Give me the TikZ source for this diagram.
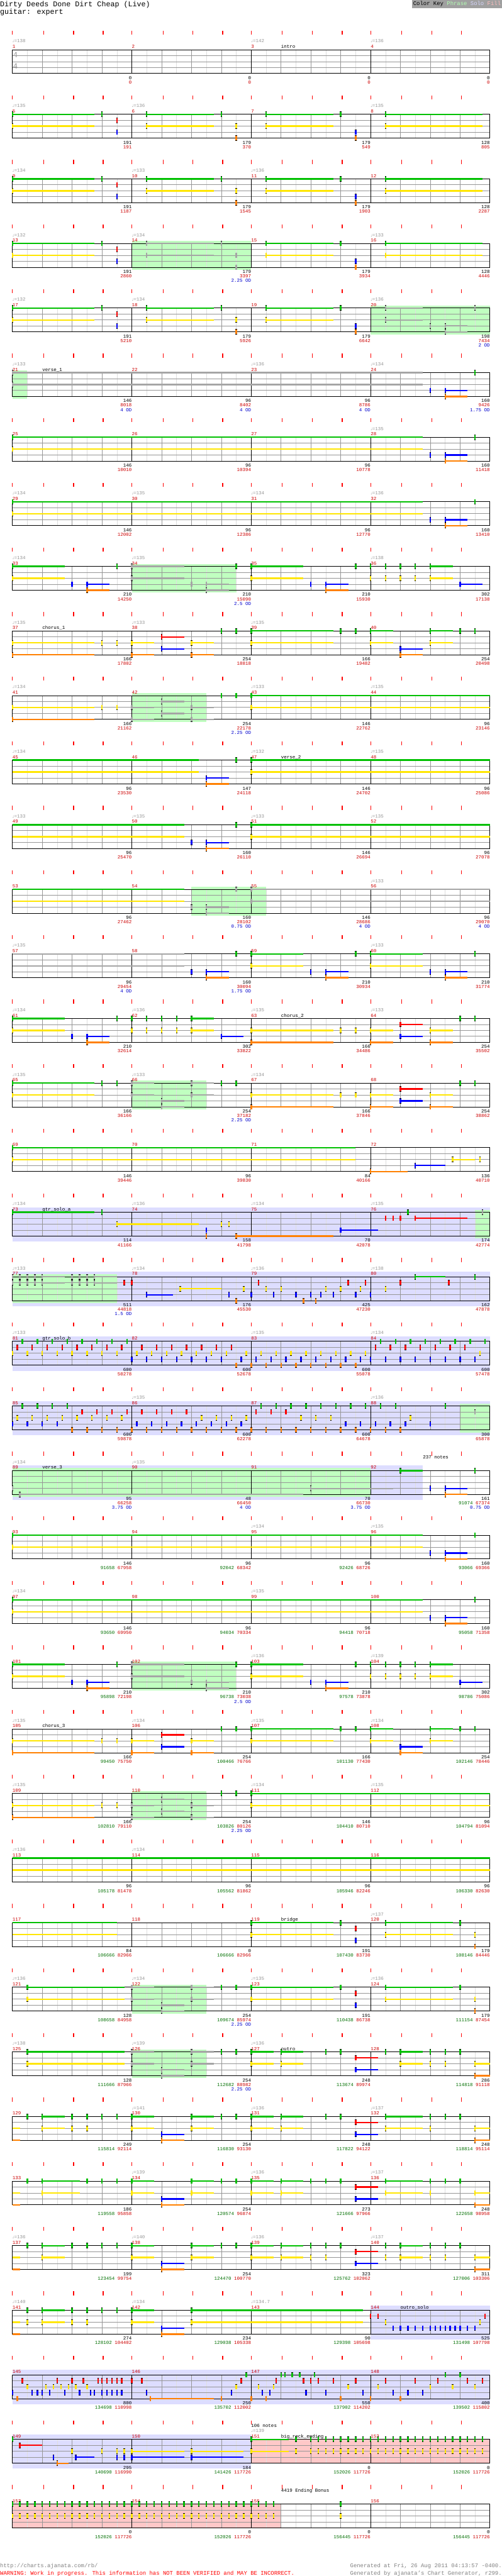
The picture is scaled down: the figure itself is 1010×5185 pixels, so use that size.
\documentclass[tikz,border=0pt]{standalone}
\usepackage{fontspec}
\setmainfont{Liberation Mono}
\newfontfamily\symf{DejaVu Sans}
\usepackage{tikz}

\definecolor{ngreen}{RGB}{0,192,0}
\definecolor{nred}{RGB}{255,0,0}
\definecolor{nyellow}{RGB}{255,230,0}
\definecolor{nblue}{RGB}{0,0,255}
\definecolor{norange}{RGB}{255,128,0}
\definecolor{ngray}{RGB}{165,165,165}
\definecolor{phrasebg}{RGB}{192,255,192}
\definecolor{solobg}{RGB}{221,221,255}
\definecolor{fillbg}{RGB}{255,200,200}
\definecolor{mred}{RGB}{204,0,0}
\definecolor{sgreen}{RGB}{0,110,0}
\definecolor{odblue}{RGB}{0,0,204}
\definecolor{tgray}{RGB}{150,150,150}
\definecolor{linegray}{RGB}{150,150,150}
\definecolor{faintgray}{RGB}{222,222,222}
\definecolor{keygray}{RGB}{160,160,160}
\definecolor{urlgray}{RGB}{128,128,128}
\definecolor{kphrase}{RGB}{180,255,180}
\definecolor{ksolo}{RGB}{215,215,255}
\definecolor{kfill}{RGB}{255,190,190}

% lane number and colour for each fret letter (capitals = overdrive phrase notes)
\newcommand\setlane[3]{\expandafter\def\csname ln#1\endcsname{#2}\expandafter\def\csname cl#1\endcsname{#3}}
\setlane{g}{0}{ngreen}\setlane{r}{1}{nred}\setlane{y}{2}{nyellow}\setlane{b}{3}{nblue}\setlane{o}{4}{norange}
\setlane{G}{0}{ngray}\setlane{R}{1}{ngray}\setlane{Y}{2}{ngray}\setlane{B}{3}{ngray}\setlane{O}{4}{ngray}

% positions are in eighth notes from the row start
\newcommand\hit[2]{\foreach \q in {#2}{\edef\lc{\csname cl\q\endcsname}\edef\ly{\csname ln\q\endcsname}%
  \draw[notecap] (#1,\ly*12-5.5) -- (#1,\ly*12+5.5);
  \draw[notebar,draw=\lc] (#1,\ly*12-4.5) -- (#1,\ly*12+4.5);}}
\newcommand\hits[2]{\foreach \pp in {#2}{\hit{\pp}{#1}}}
\newcommand\cont[3]{\foreach \q in {#3}{\edef\lc{\csname cl\q\endcsname}\edef\ly{\csname ln\q\endcsname}%
  \draw[sustain,draw=\lc] (#1,\ly*12) -- (#2,\ly*12);}}
\newcommand\sus[3]{\cont{#1}{#2}{#3}\hit{#1}{#3}}

\newcommand\phrbox[2]{\fill[phrasebg] (#1,-5) rectangle (#2,53);}
\newcommand\solobox[2]{\fill[solobg] (#1,-10) rectangle (#2,59);}
\newcommand\fillbox[2]{\fill[fillbg] (#1,0) rectangle (#2,48);}

\newcommand\staff[1]{%
  \draw[timetick] \foreach \tk in {0,2.08,4.1,6.08,8,10.1,12.09,14.09,16,18.08,20.08,22.1,24,26.1,28.09,30.07}{(\tk,-38) -- (\tk,-30)};
  \draw[eighthline] \foreach \tk in {1,3,...,31}{(\tk,0) -- (\tk,48)};
  \draw[beatline] \foreach \tk in {2,4,6,10,12,14,18,20,22,26,28,30}{(\tk,0) -- (\tk,48)};
  \draw[laneline] \foreach \tk in {12,24,36}{(0,\tk) -- (32,\tk)};
  \draw[barline] \foreach \tk in {8,16,24}{(\tk,0) -- (\tk,48)};
  \draw[staffframe] (0,0) rectangle (32,48);
  \foreach \tk in {0,...,3}{\pgfmathtruncatemacro\mn{#1+\tk}\node[mnum] (m\mn) at (\tk*8,-3) {\mn};}}

\newcommand\tpo[2]{\node[tempo] (tp#1) at (#1,-14) {{\symf\fontsize{7}{7}\selectfont ♩}=#2};}
\newcommand\sect[2]{\node[seclabel] (lb#1) at (#1,-3) {#2};}
\newcommand\pts[3]{\node[scoreblack] (sb#1) at (#1,60) {#2};\node[scorered] (sr#1) at (#1,69) {#3};}
\newcommand\ptsg[4]{\node[scoreblack] (sb#1) at (#1,60) {#2};\node[scorered] (sr#1) at (#1,69) {\textcolor{sgreen}{#3} #4};}
\newcommand\odx[2]{\node[odtext] (od#1) at (#1,78) {#2 OD};}

% riffs that come back
\newcommand\riffA{\sus{0}{5.5}{g,y}\hit{6}{g}\hit{7}{r,b}\sus{9}{13.5}{g,y}\hit{14}{g}\hit{15}{y,o}\sus{17}{21.5}{g,y}\hit{22}{g}\hit{23}{b,o}\sus{25}{31.5}{g,y}}
\newcommand\tailA{\hit{28}{b}\sus{29}{30.5}{b,o}\hit{31}{g}}
\newcommand\preA{\sus{0}{3.5}{g,y}\hit{4}{b}\sus{5}{6.5}{b,o}\hit{7}{g}\sus{8}{11.5}{G,Y}\hit{12}{B}\sus{13}{14.5}{B,O}\hit{15}{g}%
  \sus{16}{19.5}{g,y}\hit{20}{b}\sus{21}{22.5}{b,o}\hit{23}{g}\foreach \px in {24,...,27}{\hit{\px}{g,y}}\sus{28}{29.5}{g,y}\sus{30}{31.5}{b}}
\newcommand\chorA{\sus{0}{5.5}{y,o}\hit{6}{y}\hit{7}{y}\sus{8}{9.5}{y,o}\sus{10}{11.5}{r,b}\sus{12}{13.5}{y,o}\hit{14}{g}\hit{15}{g}%
  \sus{16}{21.5}{g,y}\hit{22}{g}\hit{23}{g}\sus{24}{25.5}{g,y}\sus{26}{27.5}{b,o}\sus{28}{29.5}{g,y}\hit{30}{g}\hit{31}{g}}
\newcommand\chorB{\sus{0}{5.5}{y,o}\hit{6}{y}\hit{7}{y}\sus{8}{9.5}{Y,O}\sus{10}{11.5}{R,B}\sus{12}{13.5}{Y,O}\hit{14}{g}\hit{15}{g}\sus{16}{32}{g,y}}
\newcommand\chorTail{\sus{16}{21.5}{y,o}\hit{22}{y}\hit{23}{y}\sus{24}{25.5}{y,o}\sus{26}{27.5}{r,b}\sus{28}{29.5}{y,o}\hit{30}{g}\hit{31}{g}}
\newcommand\odA{\sus{8}{9.5}{G,Y}\sus{10}{11.5}{B,O}\sus{12}{13.5}{G,Y}}

\begin{document}
\begin{tikzpicture}[
    x=1pt, y=-1pt,
    font=\fontsize{9.5}{10}\selectfont,
    row/.style={shift={(25,{100+130*(#1-1)})}, xscale=30.03, name prefix=r#1-},
    timetick/.style={draw=nred, line width=1.4pt},
    eighthline/.style={draw=faintgray, line width=0.6pt},
    beatline/.style={draw=linegray, line width=0.9pt},
    laneline/.style={draw=linegray, line width=1.1pt},
    barline/.style={draw=black, line width=0.9pt},
    staffframe/.style={draw=black, line width=1.2pt},
    notecap/.style={draw=black, line width=3pt},
    notebar/.style={line width=3pt},
    sustain/.style={line width=3pt},
    mnum/.style={anchor=base west, inner sep=0pt, text=mred},
    tempo/.style={anchor=base west, inner sep=0pt, text=tgray},
    seclabel/.style={anchor=base west, inner sep=0pt},
    scoreblack/.style={anchor=base east, inner sep=0pt},
    scorered/.style={anchor=base east, inner sep=0pt, text=mred},
    odtext/.style={anchor=base east, inner sep=0pt, text=odblue},
    tsig/.style={anchor=west, inner sep=0pt, text=tgray, font=\fontsize{16}{16}\selectfont},
    bigtext/.style={anchor=base west, inner sep=0pt, font=\fontsize{14.8}{15}\selectfont},
    foot/.style={inner sep=0pt, font=\fontsize{11.3}{12}\selectfont}
]
\useasboundingbox (0,0) rectangle (1010,5185);

% header
\node[bigtext] (title) at (0,13) {Dirty Deeds Done Dirt Cheap (Live)};
\node[bigtext] (part) at (0,28) {guitar: expert};
\node[foot, fill=keygray, anchor=north east, inner xsep=2pt, minimum height=16pt] (key) at (1010,0)
  {Color Key \textcolor{kphrase}{Phrase} \textcolor{ksolo}{Solo} \textcolor{kfill}{Fill}};

% m1-4
\begin{scope}[row=1]
\staff{1}
\node[tsig] (ts1) at (0.03,10) {4};
\node[tsig] (ts2) at (0.03,33) {4};
\tpo{0}{138}\tpo{16}{142}\tpo{24}{136}\sect{18}{intro}
\pts{8}{0}{0}\pts{16}{0}{0}\pts{24}{0}{0}\pts{32}{0}{0}
\end{scope}

% m5-8
\begin{scope}[row=2]
\staff{5}
\tpo{0}{135}\tpo{8}{136}\tpo{24}{135}
\riffA
\pts{8}{191}{191}\pts{16}{179}{370}\pts{24}{179}{549}\pts{32}{128}{805}
\end{scope}

% m9-12
\begin{scope}[row=3]
\staff{9}
\tpo{0}{134}\tpo{8}{133}\tpo{16}{136}
\riffA
\pts{8}{191}{1187}\pts{16}{179}{1545}\pts{24}{179}{1903}\pts{32}{128}{2287}
\end{scope}

% m13-16
\begin{scope}[row=4]
\phrbox{8}{16}
\staff{13}
\tpo{0}{132}\tpo{8}{134}\tpo{24}{133}
\sus{0}{5.5}{g,y}\hit{6}{g}\hit{7}{r,b}\sus{9}{13.5}{G,Y}\hit{14}{G}\hit{15}{Y,O}\sus{17}{21.5}{g,y}\hit{22}{g}\hit{23}{b,o}\sus{25}{31.5}{g,y}
\pts{8}{191}{2860}\pts{16}{179}{3397}\odx{16}{2.25}\pts{24}{179}{3934}\pts{32}{128}{4446}
\end{scope}

% m17-20
\begin{scope}[row=5]
\phrbox{24}{32}
\staff{17}
\tpo{0}{132}\tpo{8}{134}\tpo{24}{136}
\sus{0}{5.5}{g,y}\hit{6}{g}\hit{7}{r,b}\sus{9}{13.5}{g,y}\hit{14}{g}\hit{15}{y,o}\sus{17}{21.5}{g,y}\hit{22}{g}\hit{23}{b,o}
\sus{25}{27.5}{G,Y}\hit{28}{B}\sus{29}{30.5}{B,O}\hit{31}{G}
\pts{8}{191}{5210}\pts{16}{179}{5926}\pts{24}{179}{6642}\pts{32}{198}{7434}\odx{32}{2}
\end{scope}

% m21-24
\begin{scope}[row=6]
\phrbox{0}{1}
\staff{21}
\tpo{0}{133}\tpo{16}{136}\tpo{24}{134}\sect{2}{verse\_1}
\sus{0}{27.5}{G,Y}\tailA
\pts{8}{146}{8018}\odx{8}{4}\pts{16}{96}{8402}\odx{16}{4}\pts{24}{96}{8786}\odx{24}{4}\pts{32}{160}{9426}\odx{32}{1.75}
\end{scope}

% m25-28
\begin{scope}[row=7]
\staff{25}
\tpo{24}{135}
\sus{0}{27.5}{g,y}\tailA
\pts{8}{146}{10010}\pts{16}{96}{10394}\pts{24}{96}{10778}\pts{32}{160}{11418}
\end{scope}

% m29-32
\begin{scope}[row=8]
\staff{29}
\tpo{0}{134}\tpo{8}{135}\tpo{16}{134}\tpo{24}{136}
\sus{0}{27.5}{g,y}\tailA
\pts{8}{146}{12002}\pts{16}{96}{12386}\pts{24}{96}{12770}\pts{32}{160}{13410}
\end{scope}

% m33-36
\begin{scope}[row=9]
\phrbox{8}{15}
\staff{33}
\tpo{0}{134}\tpo{8}{135}\tpo{24}{138}
\preA
\pts{8}{210}{14250}\pts{16}{210}{15090}\odx{16}{2.5}\pts{24}{210}{15930}\pts{32}{302}{17138}
\end{scope}

% m37-40
\begin{scope}[row=10]
\staff{37}
\tpo{0}{135}\tpo{8}{133}\tpo{16}{135}\sect{2}{chorus\_1}
\chorA
\pts{8}{166}{17802}\pts{16}{254}{18818}\pts{24}{166}{19482}\pts{32}{254}{20498}
\end{scope}

% m41-44
\begin{scope}[row=11]
\phrbox{8}{13}
\staff{41}
\tpo{0}{134}\tpo{16}{133}\tpo{24}{135}
\chorB
\pts{8}{166}{21162}\pts{16}{254}{22178}\odx{16}{2.25}\pts{24}{146}{22762}\pts{32}{96}{23146}
\end{scope}

% m45-48
\begin{scope}[row=12]
\staff{45}
\tpo{0}{134}\tpo{16}{132}\tpo{24}{135}\sect{18}{verse\_2}
\cont{0}{12.5}{g,y}\sus{13}{14.5}{b,o}\hit{15}{g}\sus{16}{32}{g,y}
\pts{8}{96}{23530}\pts{16}{147}{24118}\pts{24}{146}{24702}\pts{32}{96}{25086}
\end{scope}

% m49-52
\begin{scope}[row=13]
\staff{49}
\tpo{0}{133}\tpo{8}{135}\tpo{16}{133}\tpo{24}{135}
\cont{0}{11.5}{g,y}\hit{12}{b}\sus{13}{14.5}{b,o}\hit{15}{g}\sus{16}{32}{g,y}
\pts{8}{96}{25470}\pts{16}{160}{26110}\pts{24}{146}{26694}\pts{32}{96}{27078}
\end{scope}

% m53-56
\begin{scope}[row=14]
\phrbox{12}{17}
\staff{53}
\tpo{24}{133}
\cont{0}{11.5}{g,y}\hit{12}{B}\sus{13}{14.5}{B,O}\hit{15}{G}\sus{16}{32}{G,Y}
\pts{8}{96}{27462}\pts{16}{160}{28102}\odx{16}{0.75}\pts{24}{146}{28686}\odx{24}{4}\pts{32}{96}{29070}\odx{32}{4}
\end{scope}

% m57-60
\begin{scope}[row=15]
\staff{57}
\tpo{0}{135}\tpo{24}{133}
\cont{0}{11.5}{G,Y}\hit{12}{b}\sus{13}{14.5}{b,o}\hit{15}{g}\sus{16}{19.5}{g,y}\hit{20}{b}\sus{21}{22.5}{b,o}\hit{23}{g}\sus{24}{27.5}{g,y}\tailA
\pts{8}{96}{29454}\odx{8}{4}\pts{16}{160}{30094}\odx{16}{1.75}\pts{24}{210}{30934}\pts{32}{210}{31774}
\end{scope}

% m61-64
\begin{scope}[row=16]
\staff{61}
\tpo{0}{134}\tpo{8}{136}\tpo{16}{135}\tpo{24}{133}\sect{18}{chorus\_2}
\sus{0}{3.5}{g,y}\hit{4}{b}\sus{5}{6.5}{b,o}\hit{7}{g}\foreach \px in {8,...,11}{\hit{\px}{g,y}}\sus{12}{13.5}{g,y}\sus{14}{15.5}{b}\chorTail
\pts{8}{210}{32614}\pts{16}{302}{33822}\pts{24}{166}{34486}\pts{32}{254}{35502}
\end{scope}

% m65-68
\begin{scope}[row=17]
\phrbox{8}{13}
\staff{65}
\tpo{0}{135}\tpo{8}{133}\tpo{16}{134}
\sus{0}{5.5}{g,y}\hit{6}{g}\hit{7}{g}\odA\hit{14}{g}\hit{15}{g}\chorTail
\pts{8}{166}{36166}\pts{16}{254}{37182}\odx{16}{2.25}\pts{24}{166}{37846}\pts{32}{254}{38862}
\end{scope}

% m69-72
\begin{scope}[row=18]
\staff{69}
\sus{0}{23}{g,y}\sus{24}{26.5}{o}\sus{27}{29}{b}\sus{29.5}{31}{y}\hit{31.33}{y}
\pts{8}{146}{39446}\pts{16}{96}{39830}\pts{24}{84}{40166}\pts{32}{136}{40710}
\end{scope}

% m73-76
\begin{scope}[row=19]
\solobox{0}{32}\phrbox{31}{32}
\staff{73}
\tpo{0}{134}\tpo{8}{136}\tpo{16}{134}\tpo{24}{135}\sect{2}{gtr\_solo\_a}
\sus{0}{5.5}{g}\hit{6}{g}\sus{7}{12.5}{y}\hit{13}{b,o}\hit{14}{y}\hit{14.5}{y}\sus{15}{21.5}{o}\sus{22}{24.5}{b}
\hit{25}{r}\hit{25.5}{r}\hit{26}{r}\hit{26.5}{g}\sus{27}{30.5}{r}\hit{31.5}{G}
\pts{8}{114}{41166}\pts{16}{158}{41798}\pts{24}{70}{42078}\pts{32}{174}{42774}
\end{scope}

% m77-80
\begin{scope}[row=20]
\solobox{0}{32}\phrbox{0}{7}
\staff{77}
\tpo{0}{133}\tpo{8}{134}\tpo{16}{136}\tpo{24}{138}
\hits{G,R}{0,0.5,1,1.5}\sus{2}{3.5}{G,R}\hits{G,R}{4,4.5,5}\sus{5.5}{7}{G,R}
\hits{r}{7.5,8,16.5,22.5,23.67,26,29.25}
\sus{9}{10.75}{b}\sus{11.25}{14}{y}
\hits{y}{15.5,17,18,21,22,23.33,25}
\hits{b}{14.5,16,17.5,19,20,20.67,21.5,23,24}
\hits{o}{15,19.5,20.33}
\sus{27}{29}{g}\hit{31}{g}
\pts{8}{511}{44818}\odx{8}{1.5}\pts{16}{176}{45530}\pts{24}{425}{47230}\pts{32}{162}{47878}
\end{scope}

% m81-84
\begin{scope}[row=21]
\solobox{0}{32}
\staff{81}
\tpo{0}{133}\tpo{16}{135}\tpo{24}{134}\sect{2}{gtr\_solo\_b}
\foreach \px in {0,...,7}{\hit{\px}{y}\hit{\px+0.33}{r}\hit{\px+0.67}{g}}
\foreach \px in {8,...,14}{\hit{\px}{b}\hit{\px+0.33}{y}\hit{\px+0.67}{r}}
\hit{15}{o}\hit{15.33}{b}\hit{15.67}{y}
\foreach \px in {16,...,23}{\hit{\px}{o}\hit{\px+0.33}{b}\hit{\px+0.67}{y}}
\foreach \px in {24,...,31}{\hit{\px}{b}\hit{\px+0.67}{g}}
\foreach \px in {24,...,30}{\hit{\px+0.33}{r}}
\hit{31.33}{y}
\pts{8}{600}{50278}\pts{16}{600}{52678}\pts{24}{600}{55078}\pts{32}{600}{57478}
\end{scope}

% m85-88
\begin{scope}[row=22]
\solobox{0}{32}\phrbox{30}{32}
\staff{85}
\tpo{8}{135}\tpo{24}{136}
\foreach \px in {0,...,3}{\hit{\px}{b}\hit{\px+0.33}{y}\hit{\px+0.67}{g}}
\foreach \px in {4,...,7}{\hit{\px}{o}\hit{\px+0.33}{y}\hit{\px+0.67}{r}}
\foreach \px in {8,...,11}{\hit{\px}{o}\hit{\px+0.33}{b}\hit{\px+0.67}{r}}
\foreach \px in {12,...,15}{\hit{\px}{o}\hit{\px+0.33}{b}\hit{\px+0.67}{y}}
\foreach \px in {16,...,18}{\hit{\px}{o}\hit{\px+0.33}{r}\hit{\px+0.67}{g}}
\foreach \px in {19,...,21}{\hit{\px}{o}\hit{\px+0.33}{y}\hit{\px+0.67}{g}}
\foreach \px in {22,...,25}{\hit{\px}{o}\hit{\px+0.33}{b}\hit{\px+0.67}{g}}
\hit{26}{o}\hit{26.33}{b}\hit{26.67}{y}\hit{28}{b}\hit{29}{g}\hit{31}{R}
\pts{8}{600}{59878}\pts{16}{600}{62278}\pts{24}{600}{64678}\pts{32}{300}{65878}
\end{scope}

% m89-92
\begin{scope}[row=23]
\solobox{0}{27.5}\phrbox{0}{24}
\staff{89}
\tpo{0}{134}\tpo{8}{135}\sect{2}{verse\_3}
\node[seclabel] (count) at (27.5,-24) {237 notes};
\hit{0}{B}\sus{0.5}{19.5}{O}\sus{20}{25.5}{B}\sus{26}{27.5}{g}\tailA
\pts{8}{95}{66258}\odx{8}{3.75}\pts{16}{48}{66450}\odx{16}{4}\pts{24}{70}{66730}\odx{24}{3.75}\ptsg{32}{161}{91074}{67374}\odx{32}{0.75}
\end{scope}

% m93-96
\begin{scope}[row=24]
\staff{93}
\tpo{16}{134}\tpo{24}{135}
\sus{0}{27.5}{g,y}\tailA
\ptsg{8}{146}{91658}{67958}\ptsg{16}{96}{92042}{68342}\ptsg{24}{96}{92426}{68726}\ptsg{32}{160}{93066}{69366}
\end{scope}

% m97-100
\begin{scope}[row=25]
\staff{97}
\tpo{0}{134}\tpo{16}{135}
\sus{0}{27.5}{g,y}\tailA
\ptsg{8}{146}{93650}{69950}\ptsg{16}{96}{94034}{70334}\ptsg{24}{96}{94418}{70718}\ptsg{32}{160}{95058}{71358}
\end{scope}

% m101-104
\begin{scope}[row=26]
\phrbox{8}{15}
\staff{101}
\tpo{16}{136}\tpo{24}{139}
\preA
\ptsg{8}{210}{95898}{72198}\ptsg{16}{210}{96738}{73038}\odx{16}{2.5}\ptsg{24}{210}{97578}{73878}\ptsg{32}{302}{98786}{75086}
\end{scope}

% m105-108
\begin{scope}[row=27]
\staff{105}
\tpo{0}{135}\tpo{8}{134}\tpo{16}{135}\tpo{24}{134}\sect{2}{chorus\_3}
\chorA
\ptsg{8}{166}{99450}{75750}\ptsg{16}{254}{100466}{76766}\ptsg{24}{166}{101130}{77430}\ptsg{32}{254}{102146}{78446}
\end{scope}

% m109-112
\begin{scope}[row=28]
\phrbox{8}{13}
\staff{109}
\tpo{0}{135}\tpo{16}{134}\tpo{24}{135}
\chorB
\ptsg{8}{166}{102810}{79110}\ptsg{16}{254}{103826}{80126}\odx{16}{2.25}\ptsg{24}{146}{104410}{80710}\ptsg{32}{96}{104794}{81094}
\end{scope}

% m113-116
\begin{scope}[row=29]
\staff{113}
\tpo{0}{136}\tpo{8}{134}
\cont{0}{32}{g,y}
\ptsg{8}{96}{105178}{81478}\ptsg{16}{96}{105562}{81862}\ptsg{24}{96}{105946}{82246}\ptsg{32}{96}{106330}{82630}
\end{scope}

% m117-120
\begin{scope}[row=30]
\staff{117}
\tpo{24}{137}\sect{18}{bridge}
\cont{0}{7}{g,y}\sus{16}{21.5}{g,y}\hit{22}{g}\hit{23}{r,b}\sus{25}{29.5}{g,y}\hit{30}{g}\hit{31}{y,o}
\ptsg{8}{84}{106666}{82966}\ptsg{16}{0}{106666}{82966}\ptsg{24}{191}{107430}{83730}\ptsg{32}{179}{108146}{84446}
\end{scope}

% m121-124
\begin{scope}[row=31]
\phrbox{8}{13}
\staff{121}
\tpo{0}{136}\tpo{8}{134}\tpo{16}{135}\tpo{24}{136}
\sus{1}{7.5}{g,y}\odA\hit{14}{g}\hit{15}{g}\sus{16}{21.5}{g,y}\hit{22}{g}\hit{23}{r,b}\sus{25}{29.5}{g,y}\hit{30}{g}\hit{31}{y,o}
\ptsg{8}{128}{108658}{84958}\ptsg{16}{254}{109674}{85974}\odx{16}{2.25}\ptsg{24}{191}{110438}{86738}\ptsg{32}{179}{111154}{87454}
\end{scope}

% m125-128
\begin{scope}[row=32]
\phrbox{8}{13}
\staff{125}
\tpo{0}{138}\tpo{8}{139}\tpo{16}{136}\sect{18}{outro}
\sus{1}{7.5}{g,y}\odA\hit{14}{g}\hit{15}{g}\sus{16}{17.5}{g,y}\sus{18}{19.5}{g,y}\hit{21}{g}\hit{22}{g}\sus{23}{24.5}{r,b}
\hit{25}{g}\sus{26}{27.5}{g,y}\hit{28}{g,y}\hit{29}{g,y}\hit{30}{g}\sus{31}{32}{y,o}
\ptsg{8}{128}{111666}{87966}\ptsg{16}{254}{112682}{88982}\odx{16}{2.25}\ptsg{24}{248}{113674}{89974}\ptsg{32}{286}{114818}{91118}
\end{scope}

% m129-132
\begin{scope}[row=33]
\staff{129}
\tpo{8}{141}\tpo{16}{136}\tpo{24}{137}
\cont{0}{0.5}{y,o}\hit{1}{g}\sus{2}{3.5}{g,y}\hit{4}{g,y}\hit{5}{g,y}\hit{6}{g}\hit{7}{g}
\sus{8}{9.5}{g,y}\sus{10}{11.5}{b,o}\sus{12}{13.5}{g,y}\hit{14}{g}\hit{15}{g}\sus{16}{17.5}{g,y}\sus{18}{19.5}{g,y}\hit{21}{g}\hit{22}{g}
\sus{23}{24.5}{r,b}\sus{25}{27.5}{g,y}\hit{28}{g,y}\hit{29}{g}\hit{30}{g}\sus{31}{32}{y,o}
\ptsg{8}{249}{115814}{92114}\ptsg{16}{254}{116830}{93130}\ptsg{24}{248}{117822}{94122}\ptsg{32}{248}{118814}{95114}
\end{scope}

% m133-136
\begin{scope}[row=34]
\staff{133}
\tpo{8}{139}\tpo{16}{136}\tpo{24}{137}
\cont{0}{0.5}{y,o}\hit{1}{g}\sus{2}{4.5}{g,y}\hit{5}{g}\hit{6}{g}\hit{7}{g}
\sus{8}{9.5}{g,y}\sus{10}{11.5}{b,o}\sus{12}{13.5}{g,y}\hit{14}{g}\hit{15}{g}\sus{16}{17.5}{g,y}\sus{18}{19.5}{g,y}\hit{20}{g}\hit{21}{g}\hit{22}{g}
\sus{23}{24.5}{r,b}\sus{25}{27.5}{g,y}\hit{28}{g,y}\hit{29}{g}\hit{30}{g}\sus{31}{32}{y,o}
\ptsg{8}{186}{119558}{95858}\ptsg{16}{254}{120574}{96874}\ptsg{24}{273}{121666}{97966}\ptsg{32}{248}{122658}{98958}
\end{scope}

% m137-140
\begin{scope}[row=35]
\staff{137}
\tpo{0}{136}\tpo{8}{140}\tpo{16}{136}\tpo{24}{137}
\cont{0}{0.5}{y,o}\hit{1}{g}\sus{2}{3.5}{g,y}\hit{4}{g}\hit{5}{g}\hit{6}{g}\hit{7}{g}
\sus{8}{9.5}{g,y}\sus{10}{11.5}{b,o}\sus{12}{13.5}{g,y}\hit{14}{g}\hit{15}{g}\sus{16}{17.5}{g,y}\sus{18}{19.5}{g,y}\hit{20}{g,y}\hit{21}{g,y}\hit{22}{g}
\sus{23}{24.5}{r,b}\hit{25}{g,y}\sus{26}{27.5}{g,y}\hit{28}{g,y}\hit{29}{g,y}\hit{30}{g}\sus{31}{32}{y,o}
\ptsg{8}{199}{123454}{99754}\ptsg{16}{254}{124470}{100770}\ptsg{24}{323}{125762}{102062}\ptsg{32}{311}{127006}{103306}
\end{scope}

% m141-144
\begin{scope}[row=36]
\solobox{24}{32}
\staff{141}
\tpo{0}{140}\tpo{8}{134}\tpo{16}{134.7}\sect{26}{outro\_solo}
\cont{0}{0.5}{y,o}\hit{1}{g,y}\sus{2}{3.5}{g,y}\hit{4}{g,y}\hit{5}{g,y}\hit{6}{g}\hit{7}{g}
\sus{8}{9.5}{g,y}\sus{10}{11.5}{b,o}\sus{12}{23.5}{g,y}
\hits{r}{24,24.5,31.67}\hits{y}{25,31.33}
\hits{b}{25.5,26,26.5,27,27.5,28,28.33,28.67,29,29.33,29.67,30,30.5,31}
\ptsg{8}{274}{128102}{104402}\ptsg{16}{234}{129038}{105338}\ptsg{24}{90}{129398}{105698}\ptsg{32}{525}{131498}{107798}
\end{scope}

% m145-148
\begin{scope}[row=37]
\solobox{0}{32}
\staff{145}
\sus{9.25}{13.5}{o}
\hits{r}{0.67,3,4,4.75,5.75,6,6.33,6.67,7,7.33,8,8.67,15.33,17.67,19.5,20,20.5,21.5,23,25,27,28.5,30.5,31.5}
\hits{y}{1,2.25,2.75,3.25,3.75,4.25,5,15,16.5,17.5,22.5,24.5,28,29.5,31}
\hits{b}{0,1.33,1.67,2,2.5,3.5,4.5,5.25,5.5,6,6.33,6.67,7,7.33,9,14.67,16.75,17.25,19.67,21,23.5,25.5,26.5,27.5}
\hits{o}{0.33,14,16,17,22,24,26}
\hits{g}{15.67,18,18.25,18.75,19.25,20.25,29,30}
\ptsg{8}{800}{134698}{110998}\ptsg{16}{250}{135702}{112002}\ptsg{24}{550}{137902}{114202}\ptsg{32}{400}{139502}{115802}
\end{scope}

% m149-152
\begin{scope}[row=38]
\solobox{0}{16}\fillbox{16}{32}
\staff{149}
\tpo{16}{139}\sect{18}{big\_rock\_ending}
\node[seclabel] (count) at (16,-24) {106 notes};
\hit{0}{g}\sus{0.5}{2}{r}\hit{2.75}{b}\sus{3}{3.75}{o}\hit{4}{y}\sus{4.25}{5.5}{b}\hit{6}{y}\hit{7}{y,b}\hit{7.5}{y,b}
\sus{8}{11.5}{y,b}\sus{12}{15.5}{y,b}\sus{16}{18.5}{g,y}\hit{19}{g,y}
\foreach \px in {20,20.5,...,31.5}{\hit{\px}{g,y}}
\ptsg{8}{295}{140690}{116990}\ptsg{16}{184}{141426}{117726}\ptsg{24}{0}{152026}{117726}\ptsg{32}{0}{152026}{117726}
\end{scope}

% m153-156
\begin{scope}[row=39]
\fillbox{0}{18}
\staff{153}
\node[seclabel] (bonus) at (18,-24) {4419 Ending Bonus};
\foreach \px in {0,0.5,...,17.5}{\hit{\px}{g,y}}
\hit{22}{g,y}
\ptsg{8}{0}{152026}{117726}\ptsg{16}{0}{152026}{117726}\ptsg{24}{0}{156445}{117726}\ptsg{32}{0}{156445}{117726}
\end{scope}

% footer
\node[foot, anchor=base west, text=urlgray] (url) at (0,5168) {http://charts.ajanata.com/rb/};
\node[foot, anchor=base west, text=nred] (warn) at (0,5183) {WARNING: Work in progress. This information has NOT BEEN VERIFIED and MAY BE INCORRECT.};
\node[foot, anchor=base east, text=urlgray] (gen1) at (1010,5168) {Generated at Fri, 26 Aug 2011 04:13:57 -0400.};
\node[foot, anchor=base east, text=urlgray] (gen2) at (1010,5183) {Generated by ajanata's Chart Generator, r299.};
\end{tikzpicture}
\end{document}
